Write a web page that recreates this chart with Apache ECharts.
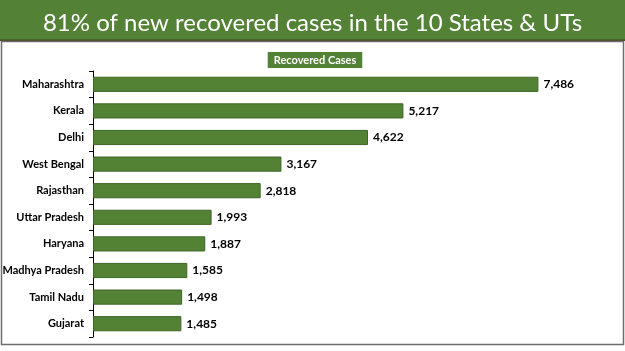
<!DOCTYPE html>
<html><head><meta charset="utf-8">
<script src="https://cdn.jsdelivr.net/npm/echarts@6/dist/echarts.min.js"></script>
<style>html,body{margin:0;padding:0;background:#fff}#c{width:625px;height:351px}</style>
</head><body><div id="c"></div>
<script>
const titleText = "81% of new recovered cases in the 10 States & UTs";
const seriesName = "Recovered Cases";
const categories = ["Maharashtra","Kerala","Delhi","West Bengal","Rajasthan","Uttar Pradesh","Haryana","Madhya Pradesh","Tamil Nadu","Gujarat"];
const values = [7486,5217,4622,3167,2818,1993,1887,1585,1498,1485];

const chart = echarts.init(document.getElementById('c'));
chart.setOption({
  animation:false,
  graphic:[
    {type:'rect',shape:{x:0,y:0,width:625,height:40},style:{fill:'#538135'},z:-1},
    {type:'rect',shape:{x:0,y:39.5,width:625,height:1.5},style:{fill:'#4a4a1e'},z:-1},
    {type:'rect',shape:{x:1.5,y:41.5,width:622,height:303},style:{fill:'none',stroke:'#6d6d6d',lineWidth:1.5},z:-1}
  ],
  title:{text:titleText,left:'center',top:6,textStyle:{color:'#fff',fontFamily:'Lato',fontWeight:'normal',fontSize:24}},
  legend:{data:[{name:seriesName,icon:'none'}],top:47,left:'center',itemWidth:0,itemGap:0,
    textStyle:{color:'#fff',fontWeight:'bold',fontSize:11,fontFamily:'Lato',backgroundColor:'#538135',padding:[3,6,2,6]}},
  grid:{left:93,right:56,top:71,bottom:14,outerBoundsMode:'none'},
  xAxis:{type:'value',min:0,max:8000,show:false},
  yAxis:{type:'category',data:categories,inverse:true,
    axisLine:{lineStyle:{color:'#000',width:1}},
    axisTick:{show:true,length:4,lineStyle:{color:'#000'}},
    axisLabel:{color:'#000',fontWeight:'bold',fontSize:11,fontFamily:'Lato',margin:9}},
  series:[{name:seriesName,type:'bar',data:values,barCategoryGap:'43%',
    itemStyle:{color:'#548235',borderColor:'#3e6626',borderWidth:1},
    label:{show:true,position:'right',distance:5,color:'#000',fontWeight:'bold',fontSize:12,fontFamily:'Lato',
      formatter:p=>p.value.toLocaleString('en-US')}}]
});
</script></body></html>
